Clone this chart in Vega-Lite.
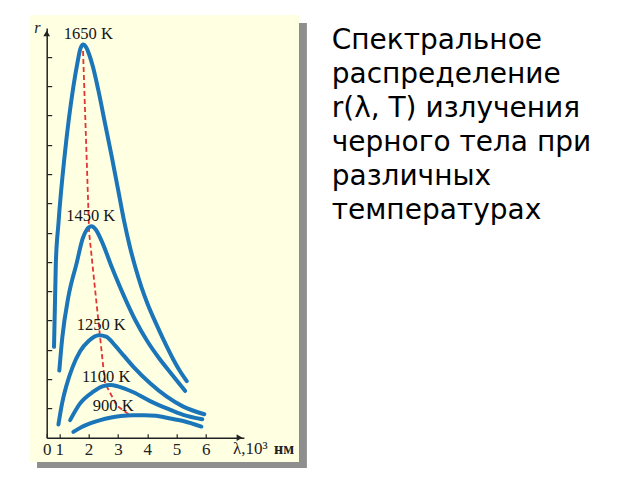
{
  "$schema": "https://vega.github.io/schema/vega-lite/v6.json",
  "autosize": {"type": "none"},
  "padding": {"left": 46.7, "top": 28.1, "right": 396.1, "bottom": 42.3},
  "width": 197.2,
  "height": 409.6,
  "background": "#ffffff",
  "config": {"view": {"stroke": null}},
  "title": {
    "text": ["Спектральное", "распределение", "r(λ, T) излучения", "черного тела при", "различных", "температурах"],
    "orient": "top",
    "anchor": "start",
    "frame": "group",
    "font": "DejaVu Sans",
    "fontSize": 28,
    "fontWeight": "normal",
    "color": "#000000",
    "lineHeight": 34,
    "baseline": "alphabetic",
    "offset": 0,
    "dx": 285,
    "dy": 232.5
  },
  "datasets": {
    "frame": [
      {"part": "shadow", "lambda": 0.24, "lambda2": 9.45, "r": -1.03, "r2": 14.15},
      {"part": "panel", "lambda": 0.0, "lambda2": 9.18, "r": -0.83, "r2": 14.43}
    ],
    "curves": [
      {"T": "1650 K", "lambda": 0.82, "r": 3.1},
      {"T": "1650 K", "lambda": 0.88, "r": 5.9},
      {"T": "1650 K", "lambda": 0.97, "r": 7.3},
      {"T": "1650 K", "lambda": 1.19, "r": 9.7},
      {"T": "1650 K", "lambda": 1.48, "r": 11.98},
      {"T": "1650 K", "lambda": 1.62, "r": 12.8},
      {"T": "1650 K", "lambda": 1.72, "r": 13.28},
      {"T": "1650 K", "lambda": 1.82, "r": 13.42},
      {"T": "1650 K", "lambda": 1.92, "r": 13.32},
      {"T": "1650 K", "lambda": 2.02, "r": 13.08},
      {"T": "1650 K", "lambda": 2.15, "r": 12.65},
      {"T": "1650 K", "lambda": 2.33, "r": 11.87},
      {"T": "1650 K", "lambda": 2.56, "r": 10.73},
      {"T": "1650 K", "lambda": 2.79, "r": 9.59},
      {"T": "1650 K", "lambda": 3.01, "r": 8.45},
      {"T": "1650 K", "lambda": 3.2, "r": 7.45},
      {"T": "1650 K", "lambda": 3.4, "r": 6.55},
      {"T": "1650 K", "lambda": 3.6, "r": 5.8},
      {"T": "1650 K", "lambda": 3.8, "r": 5.15},
      {"T": "1650 K", "lambda": 4.0, "r": 4.6},
      {"T": "1650 K", "lambda": 4.3, "r": 3.9},
      {"T": "1650 K", "lambda": 4.6, "r": 3.25},
      {"T": "1650 K", "lambda": 4.9, "r": 2.65},
      {"T": "1650 K", "lambda": 5.1, "r": 2.3},
      {"T": "1650 K", "lambda": 5.35, "r": 1.93},
      {"T": "1450 K", "lambda": 1.0, "r": 2.29},
      {"T": "1450 K", "lambda": 1.1, "r": 3.4},
      {"T": "1450 K", "lambda": 1.31, "r": 4.81},
      {"T": "1450 K", "lambda": 1.59, "r": 5.95},
      {"T": "1450 K", "lambda": 1.8, "r": 6.8},
      {"T": "1450 K", "lambda": 1.95, "r": 7.12},
      {"T": "1450 K", "lambda": 2.1, "r": 7.22},
      {"T": "1450 K", "lambda": 2.25, "r": 7.1},
      {"T": "1450 K", "lambda": 2.45, "r": 6.7},
      {"T": "1450 K", "lambda": 2.8, "r": 5.8},
      {"T": "1450 K", "lambda": 3.2, "r": 4.85},
      {"T": "1450 K", "lambda": 3.6, "r": 4.0},
      {"T": "1450 K", "lambda": 4.0, "r": 3.3},
      {"T": "1450 K", "lambda": 4.4, "r": 2.72},
      {"T": "1450 K", "lambda": 4.85, "r": 2.15},
      {"T": "1450 K", "lambda": 5.29, "r": 1.6},
      {"T": "1250 K", "lambda": 0.97, "r": 0.45},
      {"T": "1250 K", "lambda": 1.1, "r": 1.2},
      {"T": "1250 K", "lambda": 1.25, "r": 1.8},
      {"T": "1250 K", "lambda": 1.45, "r": 2.4},
      {"T": "1250 K", "lambda": 1.71, "r": 2.95},
      {"T": "1250 K", "lambda": 2.0, "r": 3.3},
      {"T": "1250 K", "lambda": 2.35, "r": 3.5},
      {"T": "1250 K", "lambda": 2.6, "r": 3.45},
      {"T": "1250 K", "lambda": 2.9, "r": 3.15},
      {"T": "1250 K", "lambda": 3.2, "r": 2.8},
      {"T": "1250 K", "lambda": 3.53, "r": 2.42},
      {"T": "1250 K", "lambda": 4.1, "r": 1.86},
      {"T": "1250 K", "lambda": 4.67, "r": 1.4},
      {"T": "1250 K", "lambda": 5.23, "r": 1.06},
      {"T": "1250 K", "lambda": 5.95, "r": 0.8},
      {"T": "1100 K", "lambda": 1.37, "r": 0.6},
      {"T": "1100 K", "lambda": 1.71, "r": 1.17},
      {"T": "1100 K", "lambda": 2.16, "r": 1.57},
      {"T": "1100 K", "lambda": 2.5, "r": 1.76},
      {"T": "1100 K", "lambda": 2.75, "r": 1.8},
      {"T": "1100 K", "lambda": 3.0, "r": 1.75},
      {"T": "1100 K", "lambda": 3.53, "r": 1.55},
      {"T": "1100 K", "lambda": 4.1, "r": 1.25},
      {"T": "1100 K", "lambda": 4.67, "r": 1.0},
      {"T": "1100 K", "lambda": 5.23, "r": 0.78},
      {"T": "1100 K", "lambda": 5.88, "r": 0.63},
      {"T": "900 K", "lambda": 1.48, "r": 0.2},
      {"T": "900 K", "lambda": 1.75, "r": 0.36},
      {"T": "900 K", "lambda": 2.05, "r": 0.49},
      {"T": "900 K", "lambda": 2.4, "r": 0.6},
      {"T": "900 K", "lambda": 2.73, "r": 0.68},
      {"T": "900 K", "lambda": 3.1, "r": 0.74},
      {"T": "900 K", "lambda": 3.5, "r": 0.77},
      {"T": "900 K", "lambda": 3.9, "r": 0.77},
      {"T": "900 K", "lambda": 4.3, "r": 0.75},
      {"T": "900 K", "lambda": 4.67, "r": 0.68},
      {"T": "900 K", "lambda": 5.23, "r": 0.57},
      {"T": "900 K", "lambda": 5.85, "r": 0.38}
    ],
    "wien": [
      {"lambda": 1.81, "r": 13.2},
      {"lambda": 2.02, "r": 6.98},
      {"lambda": 2.39, "r": 3.45},
      {"lambda": 2.56, "r": 1.86},
      {"lambda": 2.96, "r": 1.1},
      {"lambda": 3.41, "r": 0.77}
    ],
    "labels": [
      {"label": "1650 K", "lambda": 1.99, "r": 13.78},
      {"label": "1450 K", "lambda": 2.07, "r": 7.58},
      {"label": "1250 K", "lambda": 2.43, "r": 3.85},
      {"label": "1100 K", "lambda": 2.6, "r": 2.06},
      {"label": "900 K", "lambda": 2.84, "r": 1.07}
    ],
    "axisText": [
      {"label": "λ,10³", "lambda": 6.93, "r": -0.39}
    ],
    "axisUnit": [
      {"label": "нм", "lambda": 8.67, "r": -0.39}
    ],
    "rLabel": [
      {"label": "r", "lambda": 0.25, "r": 13.97}
    ],
    "arrowX": [{"lambda": 7.15, "r": 0}],
    "arrowY": [{"lambda": 0.57, "r": 13.8}]
  },
  "encoding": {
    "x": {
      "field": "lambda",
      "type": "quantitative",
      "scale": {"domain": [0.57, 7.3], "nice": false, "zero": false},
      "axis": {
        "values": [0.57, 1, 2, 3, 4, 5, 6],
        "labelExpr": "datum.value < 0.9 ? '0' : datum.label",
        "title": null,
        "grid": false,
        "zindex": 1,
        "domainColor": "#222222",
        "domainWidth": 1.5,
        "tickColor": "#222222",
        "tickWidth": 1.2,
        "tickSize": -4,
        "labelFont": "Liberation Serif",
        "labelFontSize": 17,
        "labelColor": "#222222",
        "labelBaseline": "middle",
        "labelPadding": 15.6,
        "labelFlush": false,
        "labelOverlap": false
      }
    },
    "y": {
      "field": "r",
      "type": "quantitative",
      "scale": {"domain": [0, 13.98], "nice": false, "zero": false},
      "axis": {
        "values": [1, 2, 3, 4, 5, 6, 7, 8, 9, 10, 11, 12, 13],
        "labels": false,
        "title": null,
        "grid": false,
        "zindex": 1,
        "domainColor": "#222222",
        "domainWidth": 1.5,
        "tickColor": "#222222",
        "tickWidth": 1.2,
        "tickSize": -5
      }
    }
  },
  "layer": [
    {
      "data": {"name": "frame"},
      "transform": [{"filter": "datum.part == 'shadow'"}],
      "mark": {"type": "rect", "color": "#8e8e8e"},
      "encoding": {"x2": {"field": "lambda2"}, "y2": {"field": "r2"}}
    },
    {
      "data": {"name": "frame"},
      "transform": [{"filter": "datum.part == 'panel'"}],
      "mark": {"type": "rect", "color": "#ffffe2"},
      "encoding": {"x2": {"field": "lambda2"}, "y2": {"field": "r2"}}
    },
    {
      "data": {"name": "wien"},
      "mark": {"type": "line", "color": "#e23434", "strokeWidth": 1.8, "strokeDash": [5, 3]},
      "encoding": {}
    },
    {
      "data": {"name": "curves"},
      "mark": {"type": "line", "color": "#1a75b9", "strokeWidth": 4, "strokeCap": "round", "strokeJoin": "round", "interpolate": "monotone"},
      "encoding": {"detail": {"field": "T"}}
    },
    {
      "data": {"name": "labels"},
      "mark": {"type": "text", "font": "Liberation Serif", "fontSize": 16.5, "color": "#151515", "align": "center", "baseline": "middle"},
      "encoding": {"text": {"field": "label"}}
    },
    {
      "data": {"name": "axisText"},
      "mark": {"type": "text", "font": "Liberation Serif", "fontSize": 17, "color": "#222222", "align": "left", "baseline": "middle"},
      "encoding": {"text": {"field": "label"}}
    },
    {
      "data": {"name": "axisUnit"},
      "mark": {"type": "text", "font": "Liberation Serif", "fontSize": 16, "fontWeight": "bold", "color": "#222222", "align": "center", "baseline": "middle"},
      "encoding": {"text": {"field": "label"}}
    },
    {
      "data": {"name": "rLabel"},
      "mark": {"type": "text", "font": "Liberation Serif", "fontSize": 16, "fontStyle": "italic", "color": "#222222", "align": "center", "baseline": "middle"},
      "encoding": {"text": {"field": "label"}}
    },
    {
      "data": {"name": "arrowX"},
      "mark": {"type": "point", "shape": "triangle-right", "filled": true, "size": 45, "color": "#222222", "opacity": 1},
      "encoding": {}
    },
    {
      "data": {"name": "arrowY"},
      "mark": {"type": "point", "shape": "triangle-up", "filled": true, "size": 45, "color": "#222222", "opacity": 1},
      "encoding": {}
    }
  ]
}
